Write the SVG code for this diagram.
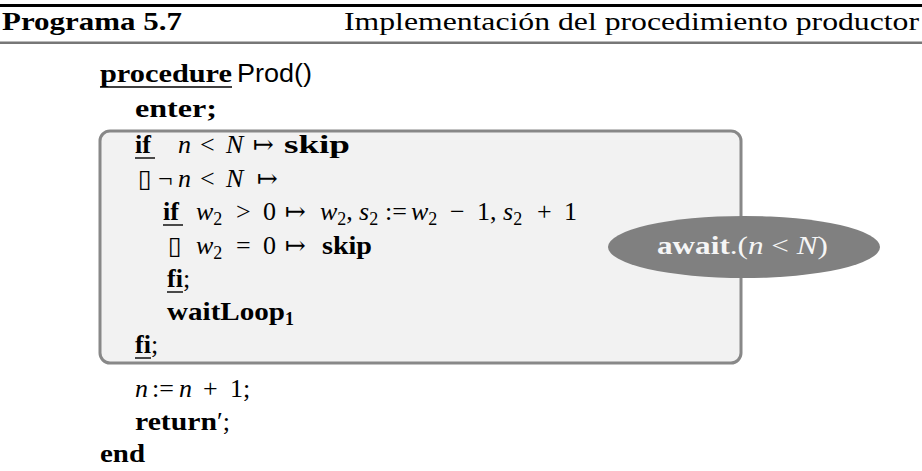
<svg xmlns="http://www.w3.org/2000/svg" width="922" height="471" viewBox="0 0 922 471">
  <style>
    text { font-family: "Liberation Serif", "DejaVu Serif", serif; fill: #000; }
    .hd { font-size: 26px; }
    .c { font-size: 26px; }
    .b { font-weight: bold; }
    .i { font-style: italic; }
    .sf { font-family: "Liberation Sans", "DejaVu Sans", sans-serif; }
    .sub { font-size: 18px; }
    .ul { stroke: #000; stroke-width: 1.4; }
    .sym { font-family: "DejaVu Serif", serif; font-size: 25px; }
  </style>

  <!-- caption rules and title -->
  <g id="header">
    <rect x="0" y="4" width="922" height="3" fill="#000"/>
    <rect x="0" y="41.5" width="922" height="2.5" fill="#777"/>
    <text class="hd b" x="2" y="30" textLength="180" lengthAdjust="spacingAndGlyphs">Programa 5.7</text>
    <text class="hd" x="344" y="30" textLength="575" lengthAdjust="spacingAndGlyphs">Implementación del procedimiento productor</text>
  </g>

  <!-- guarded block -->
  <g id="guard-box">
    <rect x="100" y="131" width="641" height="232" rx="10" ry="10" fill="#f2f2f2" stroke="#888" stroke-width="3"/>
  </g>

  <g id="code">
    <text class="c b" x="100" y="82" textLength="132" lengthAdjust="spacingAndGlyphs">procedure</text>
    <line class="ul" x1="100" y1="87" x2="232" y2="87"/>
    <text class="c sf" x="237" y="82" textLength="75" lengthAdjust="spacingAndGlyphs">Prod()</text>

    <text class="c b" x="135" y="117" textLength="82" lengthAdjust="spacingAndGlyphs">enter;</text>

    <!-- if n < N -> skip -->
    <text class="c b" x="135" y="153">if</text>
    <line class="ul" x1="135" y1="158" x2="155" y2="158"/>
    <text class="c" y="153"><tspan class="i" x="178">n</tspan><tspan x="200">&lt;</tspan><tspan class="i" x="226">N</tspan></text>
    <text class="sym" x="253" y="153">↦</text>
    <text class="c b" x="284" y="153" textLength="66" lengthAdjust="spacingAndGlyphs">skip</text>

    <!-- [] not n < N -> -->
    <text class="sym" x="138" y="187">▯</text>
    <text class="c" y="187"><tspan x="158">¬</tspan><tspan class="i" x="178">n</tspan><tspan x="200">&lt;</tspan><tspan class="i" x="226">N</tspan></text>
    <text class="sym" x="257" y="187">↦</text>

    <!-- inner if -->
    <text class="c b" x="163" y="220">if</text>
    <line class="ul" x1="163" y1="225" x2="183" y2="225"/>
    <text class="c" y="220"><tspan class="i" x="196">w</tspan><tspan class="sub" dy="5">2</tspan><tspan x="236" dy="-5">&gt;</tspan><tspan x="263">0</tspan></text>
    <text class="sym" x="285" y="220">↦</text>
    <text class="c" y="220"><tspan class="i" x="320">w</tspan><tspan class="sub" dy="5">2</tspan><tspan dy="-5">,</tspan><tspan class="i" x="359">s</tspan><tspan class="sub" dy="5">2</tspan><tspan x="385" dy="-5">:=</tspan><tspan class="i" x="411">w</tspan><tspan class="sub" dy="5">2</tspan><tspan x="450" dy="-5">−</tspan><tspan x="477">1,</tspan><tspan class="i" x="503">s</tspan><tspan class="sub" dy="5">2</tspan><tspan x="537" dy="-5">+</tspan><tspan x="564">1</tspan></text>

    <text class="sym" x="168" y="254">▯</text>
    <text class="c" y="254"><tspan class="i" x="196">w</tspan><tspan class="sub" dy="5">2</tspan><tspan x="236" dy="-5">=</tspan><tspan x="263">0</tspan></text>
    <text class="sym" x="285" y="254">↦</text>
    <text class="c b" x="322" y="254" textLength="50" lengthAdjust="spacingAndGlyphs">skip</text>

    <text class="c b" x="167" y="287">fi<tspan font-weight="normal">;</tspan></text>
    <line class="ul" x1="167" y1="292" x2="183" y2="292"/>

    <text class="c b" x="167" y="320"><tspan textLength="118" lengthAdjust="spacingAndGlyphs">waitLoop</tspan><tspan class="sub" dy="5">1</tspan></text>

    <text class="c b" x="135" y="353">fi<tspan font-weight="normal">;</tspan></text>
    <line class="ul" x1="135" y1="358" x2="151" y2="358"/>

    <text class="c" y="397"><tspan class="i" x="135">n</tspan><tspan x="152">:=</tspan><tspan class="i" x="179">n</tspan><tspan x="203">+</tspan><tspan x="230">1;</tspan></text>

    <text class="c b" x="135" y="430"><tspan textLength="82" lengthAdjust="spacingAndGlyphs">return</tspan><tspan font-weight="normal">′;</tspan></text>

    <text class="c b" x="100" y="462" textLength="45" lengthAdjust="spacingAndGlyphs">end</text>
  </g>

  <!-- await condition marker -->
  <g id="await-node">
    <ellipse cx="744" cy="247" rx="136" ry="31" fill="#808080"/>
    <text class="c" x="657" y="254" style="fill:#f5f5f5" textLength="171" lengthAdjust="spacingAndGlyphs"><tspan class="b">await</tspan>.(<tspan class="i">n</tspan> &lt; <tspan class="i">N</tspan>)</text>
  </g>
</svg>
